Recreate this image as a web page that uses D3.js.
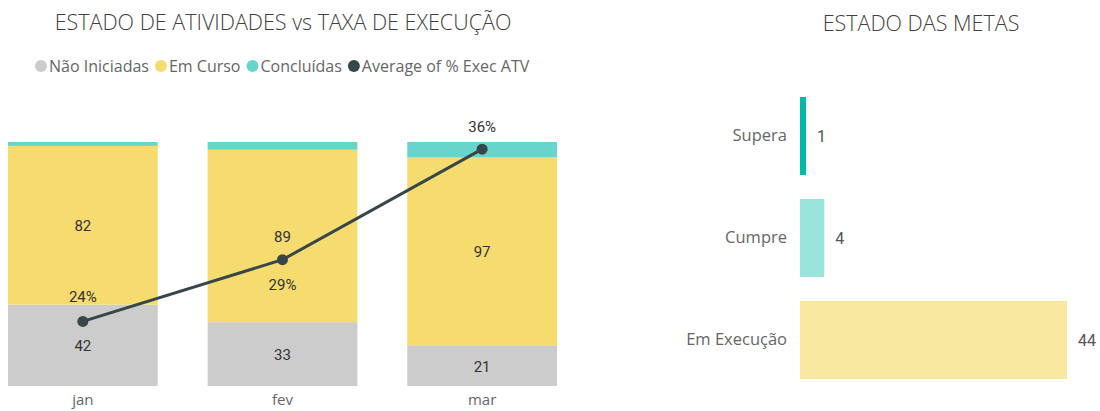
<!DOCTYPE html>
<html><head><meta charset="utf-8">
<script src="https://cdn.jsdelivr.net/npm/d3@7"></script>
<style>
html,body{margin:0;padding:0;background:#fff;}
svg{display:block;}
</style></head>
<body>
<svg id="c" width="1100" height="411"></svg>
<script>
// ---- data ----
const months = ["jan", "fev", "mar"];
const naoIniciadas = [42, 33, 21];
const emCurso = [82, 89, 97];
const concluidas = [2, 4, 8];
const avgExec = [24.4, 28.7, 36.4];
const avgExecLabels = ["24%", "29%", "36%"];
const seriesNames = ["Não Iniciadas", "Em Curso", "Concluídas", "Average of % Exec ATV"];
const metasCats = ["Supera", "Cumpre", "Em Execução"];
const metasVals = [1, 4, 44];

const colGray = "#CCCCCC", colYellow = "#F6DB6E", colTeal = "#67D5CB", colLine = "#374649";
const metasColors = ["#01B8AA", "#9AE3DB", "#F9E8A0"];

const svg = d3.select("#c");
const font = "'Open Sans', 'Segoe UI', sans-serif";
const numFont = "Roboto, 'DejaVu Sans', sans-serif";

// ---- left chart ----
svg.append("text").attr("x", 283).attr("y", 30).attr("text-anchor", "middle")
  .style("font-family", font).style("font-size", "21.5px").style("font-weight", 300).attr("fill", "#404040")
  .text("ESTADO DE ATIVIDADES vs TAXA DE EXECUÇÃO");

// legend
const legendColors = [colGray, colYellow, colTeal, colLine];
const lg = svg.append("g").attr("transform", "translate(35,66)");
let lx = 0;
seriesNames.forEach((n, i) => {
  lg.append("circle").attr("cx", lx + 6).attr("cy", 0).attr("r", 6).attr("fill", legendColors[i]);
  const t = lg.append("text").attr("x", lx + 14).attr("y", 5.5).style("font-family", font)
    .style("font-size", "16px").attr("fill", "#666").text(n);
  lx += 14 + t.node().getComputedTextLength() + 6;
});

const x = d3.scaleBand().domain(months).range([8, 557]).paddingInner(0.25).paddingOuter(0);
const stackData = months.map((m, i) => ({ m, nao: naoIniciadas[i], curso: emCurso[i], conc: concluidas[i] }));
const stack = d3.stack().keys(["nao", "curso", "conc"])(stackData);
const maxTotal = d3.max(stackData, d => d.nao + d.curso + d.conc);
const y = d3.scaleLinear().domain([0, maxTotal]).range([386, 142]);
const y2 = d3.scaleLinear().domain([19.9, 36.9]).range([386, 142]);
const stackColors = [colGray, colYellow, colTeal];

stack.forEach((layer, li) => {
  svg.append("g").selectAll("rect").data(layer).join("rect")
    .attr("x", d => x(d.data.m)).attr("width", x.bandwidth())
    .attr("y", d => y(d[1])).attr("height", d => y(d[0]) - y(d[1]))
    .attr("fill", stackColors[li]);
});
// segment labels (not for small concluidas)
[0, 1].forEach(li => {
  svg.append("g").selectAll("text").data(stack[li]).join("text")
    .attr("x", d => x(d.data.m) + x.bandwidth() / 2)
    .attr("y", d => (y(d[0]) + y(d[1])) / 2 + 6)
    .attr("text-anchor", "middle").style("font-family", numFont).style("font-size", "15px")
    .attr("fill", "#333").text(d => d[1] - d[0]);
});

// x axis labels
svg.append("g").attr("transform", "translate(0,386)")
  .call(d3.axisBottom(x).tickSize(0).tickPadding(8))
  .call(g => g.select(".domain").remove())
  .call(g => g.selectAll("text").style("font-family", font).style("font-size", "15px").attr("fill", "#666"));

// line
const pts = months.map((m, i) => [x(m) + x.bandwidth() / 2, y2(avgExec[i])]);
svg.append("path").attr("d", d3.line()(pts)).attr("fill", "none").attr("stroke", colLine).attr("stroke-width", 3);
svg.append("g").selectAll("circle").data(pts).join("circle")
  .attr("cx", d => d[0]).attr("cy", d => d[1]).attr("r", 5.5).attr("fill", colLine);
const labelOffsets = [-19, 30, -17];
svg.append("g").selectAll("text").data(pts).join("text")
  .attr("x", d => d[0]).attr("y", (d, i) => d[1] + labelOffsets[i])
  .attr("text-anchor", "middle").style("font-family", numFont).style("font-size", "15px")
  .attr("fill", "#333").text((d, i) => avgExecLabels[i]);

// ---- right chart ----
svg.append("text").attr("x", 921).attr("y", 31).attr("text-anchor", "middle")
  .style("font-family", font).style("font-size", "21.5px").style("font-weight", 300).attr("fill", "#404040")
  .text("ESTADO DAS METAS");

const yb = d3.scaleBand().domain(metasCats).range([97, 379]).paddingInner(0.235).paddingOuter(0);
const xb = d3.scaleLinear().domain([0, d3.max(metasVals)]).range([800, 1067]);
svg.append("g").selectAll("rect").data(metasCats).join("rect")
  .attr("x", xb(0)).attr("y", d => yb(d)).attr("height", yb.bandwidth())
  .attr("width", (d, i) => xb(metasVals[i]) - xb(0)).attr("fill", (d, i) => metasColors[i]);
svg.append("g").attr("transform", "translate(787,0)")
  .call(d3.axisLeft(yb).tickSize(0).tickPadding(0))
  .call(g => g.select(".domain").remove())
  .call(g => g.selectAll("text").style("font-family", font).style("font-size", "16.5px").attr("fill", "#666"));
svg.append("g").selectAll("text").data(metasCats).join("text")
  .attr("x", (d, i) => xb(metasVals[i]) + 11).attr("y", d => yb(d) + yb.bandwidth() / 2 + 6)
  .style("font-family", numFont).style("font-size", "16px").attr("fill", "#555")
  .text((d, i) => metasVals[i]);
</script>
</body></html>
